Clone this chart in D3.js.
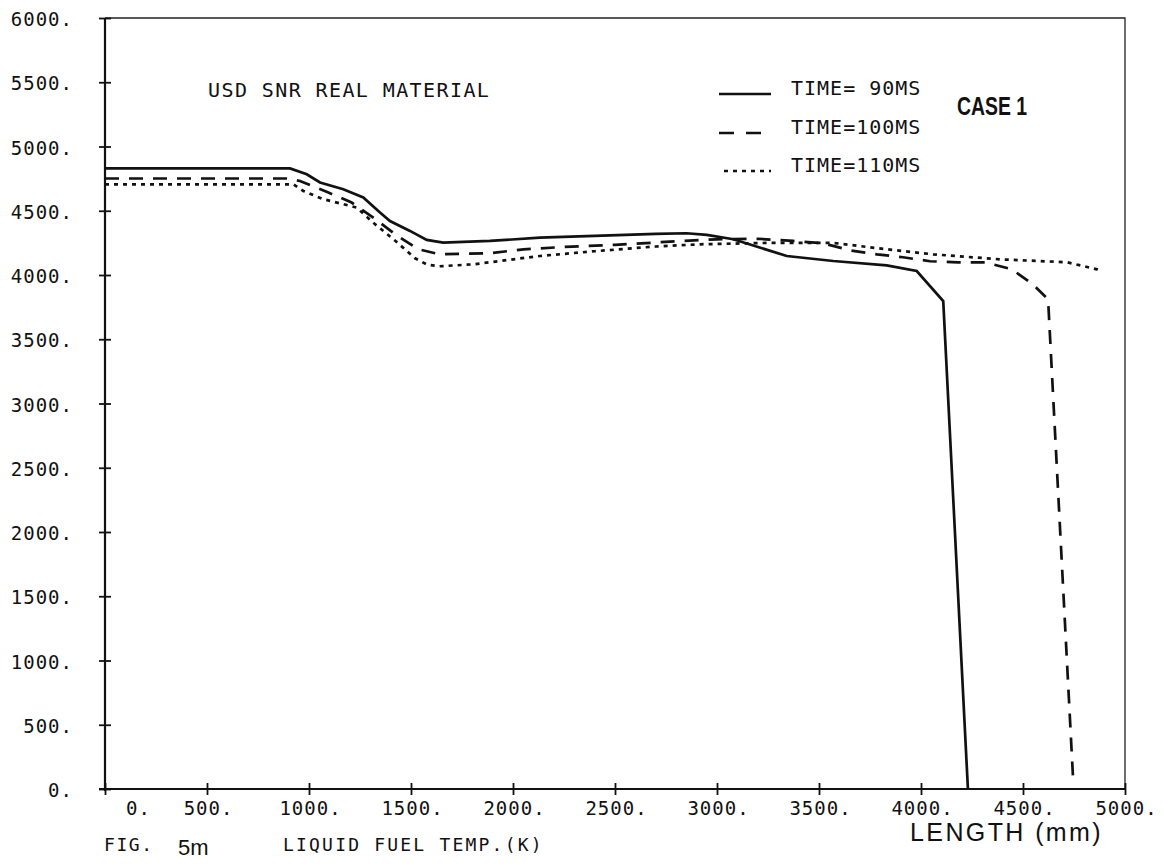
<!DOCTYPE html>
<html>
<head>
<meta charset="utf-8">
<script src="https://cdn.jsdelivr.net/npm/d3@7"></script>
<style>
  body { margin: 0; background: #fff; }
  .plot-text { font-family: "DejaVu Sans Mono", monospace; fill: #111; }
</style>
</head>
<body>
<svg id="chart"></svg>
<script>
const width = 1164;
const height = 865;

// length (mm) vs liquid fuel temperature (K)
const time90 = [[0,4830],[300,4830],[600,4830],[907,4829],[989,4784],[1054,4720],[1168,4667],[1266,4603],
  [1348,4486],[1397,4420],[1495,4343],[1577,4273],[1658,4252],[1887,4265],[2132,4291],[2400,4305],
  [2700,4320],[2850,4325],[2950,4312],[3080,4278],[3342,4148],[3570,4109],[3832,4075],[3979,4031],
  [4109,3797],[4230,0]];
const time100 = [[0,4751],[890,4751],[956,4732],[1095,4642],[1209,4564],[1315,4447],[1422,4317],[1536,4200],
  [1642,4161],[1887,4169],[2051,4200],[2250,4218],[2500,4235],[2800,4262],[3000,4278],[3200,4282],
  [3373,4265],[3520,4247],[3652,4192],[3784,4161],[3912,4138],[4044,4107],[4181,4099],[4314,4099],
  [4446,4044],[4549,3927],[4623,3810],[4745,95]];
const time110 = [[0,4706],[923,4706],[972,4654],[1070,4590],[1234,4525],[1320,4400],[1420,4270],[1520,4130],
  [1580,4080],[1640,4068],[1805,4083],[2132,4148],[2400,4185],[2700,4222],[2917,4239],[3250,4250],
  [3569,4250],[3833,4200],[4059,4161],[4387,4122],[4716,4099],[4863,4044],[4880,4030]];

const seriesNames = ['TIME= 90MS', 'TIME=100MS', 'TIME=110MS'];
const seriesDash = [null, '14,10', '4,5'];
const xTicks = [0,500,1000,1500,2000,2500,3000,3500,4000,4500,5000];
const yTicks = [0,500,1000,1500,2000,2500,3000,3500,4000,4500,5000,5500,6000];

const plotLeft = 105, plotRight = 1125, plotTop = 18, plotBottom = 789;

const svg = d3.select('#chart').attr('width', width).attr('height', height);

const x = d3.scaleLinear().domain([0, 5000]).range([plotLeft, plotRight]);
const y = d3.scaleLinear().domain([0, 6000]).range([plotBottom, plotTop]);

// frame (top + right)
svg.append('path')
  .attr('d', `M${plotLeft},${plotTop}H${plotRight}V${plotBottom}`)
  .attr('fill', 'none').attr('stroke', '#222').attr('stroke-width', 1.3);

const yAxis = svg.append('g').attr('transform', `translate(${plotLeft},0)`)
  .call(d3.axisLeft(y).tickValues(yTicks).tickFormat(d => d + '.').tickSizeOuter(0));
const xAxis = svg.append('g').attr('transform', `translate(0,${plotBottom})`)
  .call(d3.axisBottom(x).tickValues(xTicks).tickFormat(d => d + '.').tickSizeOuter(0));

[yAxis, xAxis].forEach(a => {
  a.select('.domain').attr('stroke', '#111').attr('stroke-width', 2.2);
  a.selectAll('.tick line').attr('stroke', '#111').attr('stroke-width', 1.8);
  a.selectAll('text').attr('class', 'plot-text').attr('fill', '#111')
    .style('font-size', '19px').style('letter-spacing', '1px');
});
yAxis.select('.domain').attr('d', `M0,${plotTop}V${plotBottom + 2}`);
xAxis.select('.domain').attr('d', `M${plotLeft - 6},0H${plotRight}`);
yAxis.selectAll('.tick line').attr('x1', -6).attr('x2', 6);
yAxis.selectAll('.tick text').attr('x', -32).attr('dy', '0.4em');
xAxis.selectAll('.tick line').attr('y1', -6).attr('y2', 6);
xAxis.selectAll('.tick text').attr('y', 13).attr('dy', '0.71em')
  .attr('dx', d => d === 0 ? 33 : 1);

const line = d3.line().x(d => x(d[0])).y(d => y(d[1]));

[time90, time100, time110].forEach((s, i) => {
  svg.append('path').datum(s)
    .attr('d', line)
    .attr('fill', 'none')
    .attr('stroke', '#111')
    .attr('stroke-width', 2.7)
    .attr('stroke-dasharray', seriesDash[i]);
});

// legend
const legendY = [94, 133, 171];
seriesNames.forEach((name, i) => {
  const ly = legendY[i];
  svg.append('line')
    .attr('x1', i === 2 ? 724 : 719).attr('x2', 771)
    .attr('y1', ly).attr('y2', ly)
    .attr('stroke', '#111').attr('stroke-width', 2.7)
    .attr('stroke-dasharray', i === 1 ? '15,12' : seriesDash[i]);
  svg.append('text').attr('class', 'plot-text')
    .attr('x', 791).attr('y', ly + 1)
    .style('font-size', '20px').style('letter-spacing', '1px')
    .text(name);
});

svg.append('text').attr('class', 'plot-text')
  .attr('x', 208).attr('y', 97)
  .style('font-size', '20px').style('letter-spacing', '1.4px')
  .text('USD SNR REAL MATERIAL');

svg.append('text')
  .attr('x', 957).attr('y', 115)
  .attr('textLength', 70).attr('lengthAdjust', 'spacingAndGlyphs')
  .style('font-family', '"Liberation Sans", Arial, sans-serif')
  .style('font-weight', 'bold').style('font-size', '25px')
  .attr('fill', '#111')
  .text('CASE 1');

svg.append('text').attr('class', 'plot-text')
  .attr('x', 104).attr('y', 851)
  .style('font-size', '18px').style('letter-spacing', '1.6px')
  .text('FIG.');
svg.append('text')
  .attr('x', 178).attr('y', 855)
  .style('font-family', '"Liberation Sans", Arial, sans-serif').style('font-size', '22px')
  .attr('fill', '#111')
  .text('5m');
svg.append('text').attr('class', 'plot-text')
  .attr('x', 283).attr('y', 851)
  .style('font-size', '18px').style('letter-spacing', '2.2px')
  .text('LIQUID FUEL TEMP.(K)');

svg.append('text')
  .attr('x', 910).attr('y', 841)
  .style('font-family', '"Liberation Sans", Arial, sans-serif').style('font-size', '25px')
  .style('letter-spacing', '2.4px')
  .attr('fill', '#111')
  .text('LENGTH (mm)');
</script>
</body>
</html>
